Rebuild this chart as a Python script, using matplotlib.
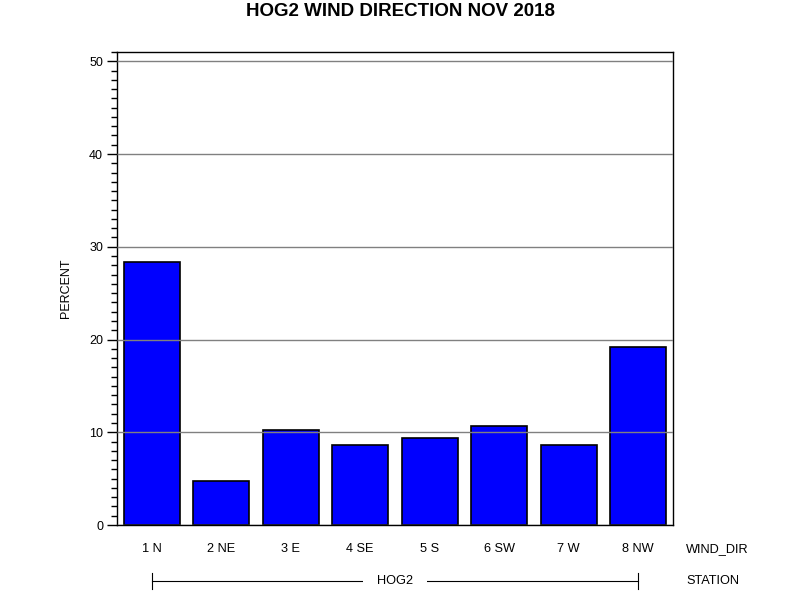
import matplotlib
matplotlib.use("Agg")
import matplotlib.pyplot as plt
from matplotlib.ticker import MultipleLocator
from matplotlib.transforms import blended_transform_factory
from matplotlib.lines import Line2D

categories = ["1 N", "2 NE", "3 E", "4 SE", "5 S", "6 SW", "7 W", "8 NW"]
percent = [28.4, 4.7, 10.2, 8.6, 9.4, 10.7, 8.6, 19.2]
station = "HOG2"
title = "HOG2 WIND DIRECTION NOV 2018"

plt.rcParams['font.family'] = ['Liberation Sans', 'DejaVu Sans']

fig = plt.figure(figsize=(8, 6), dpi=100)
ax = fig.add_axes([117/800, 1-525/600, (673-117)/800, (525-52)/600])

x = list(range(len(categories)))
ax.bar(x, percent, width=0.805, color="#0000ff", edgecolor="black", linewidth=1.2, zorder=1)
ax.set_xlim(-0.5, len(categories) - 0.5)
ax.set_ylim(0, 51)
ax.yaxis.set_major_locator(MultipleLocator(10))
ax.yaxis.set_minor_locator(MultipleLocator(1))
ax.tick_params(axis='y', which='major', direction='out', length=7, width=1, labelsize=9, pad=3)
ax.tick_params(axis='y', which='minor', direction='out', length=4, width=1)
ax.set_xticks([])
for s in ax.spines.values():
    s.set_linewidth(1)
    s.set_color("black")
ax.grid(axis='y', which='major', color='#808080', linewidth=1, zorder=3)
ax.set_axisbelow(False)
ax.set_ylabel("PERCENT", fontsize=9, labelpad=12)

fig.suptitle(title, fontsize=13.5, fontweight='bold', y=1-12/600, va='center', x=400/800)

trans = blended_transform_factory(ax.transData, fig.transFigure)
for xi, lab in zip(x, categories):
    ax.text(xi, 1-549/600, lab, transform=trans, ha='center', va='center', fontsize=9.2)
fig.text(686/800, 1-549/600, "WIND_DIR", ha='left', va='center', fontsize=9.2)
fig.text(686/800, 1-581/600, "STATION", ha='left', va='center', fontsize=9.2)

yl = 1-581/600
fig.add_artist(Line2D([0, len(categories)-1], [yl, yl], transform=trans, color='black', linewidth=0.8))
for xe in (0, len(categories)-1):
    fig.add_artist(Line2D([xe, xe], [1-573/600, 1-589/600], transform=trans, color='black', linewidth=0.8))
fig.text(((len(categories)-1)/2 + 0.5) / len(categories) * (673-117)/800 + 117/800, yl, station,
         ha='center', va='center', fontsize=9.2,
         bbox=dict(facecolor='white', edgecolor='none', pad=10))

fig.savefig("out.png", dpi=100, facecolor='white')
